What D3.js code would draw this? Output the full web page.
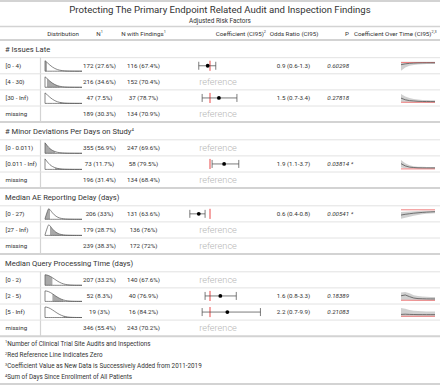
<!DOCTYPE html>
<html><head><meta charset="utf-8">
<script src="https://cdn.jsdelivr.net/npm/d3@7"></script>
<style>
html,body{margin:0;padding:0;background:#fff;}
svg text{font-family:Roboto,"Noto Sans",sans-serif;}
</style></head>
<body>
<svg id="chart" width="440" height="385"></svg>
<script>
// ---------------- data ----------------
const title = "Protecting The Primary Endpoint Related Audit and Inspection Findings";
const subtitle = "Adjusted Risk Factors";
const groupNames = ["# Issues Late", "# Minor Deviations Per Days on Study", "Median AE Reporting Delay (days)", "Median Query Processing Time (days)"];
const groupSup = ["", "4", "", ""];
const rowGroup = [0,0,0,0, 1,1,1, 2,2,2, 3,3,3,3];
const rowLabels = ["[0 - 4)","[4 - 30)","[30 - Inf)","missing","[0 - 0.011)","[0.011 - Inf)","missing","[0 - 27)","[27 - Inf)","missing","[0 - 2)","[2 - 5)","[5 - Inf)","missing"];
const nCount = [172,216,47,189, 355,73,196, 206,179,239, 207,52,19,346];
const nPct = [27.6,34.6,7.5,30.3, 56.9,11.7,31.4, 33,28.7,38.3, 33.2,8.3,3,55.4];
const fCount = [116,152,37,134, 247,58,134, 131,136,172, 140,40,16,243];
const fPct = [67.4,70.4,78.7,70.9, 69.6,79.5,68.4, 63.6,76,72, 67.6,76.9,84.2,70.2];
const orEst = [0.9,null,1.5,null, null,1.9,null, 0.6,null,null, null,1.6,2.2,null];
const orLo  = [0.6,null,0.7,null, null,1.1,null, 0.4,null,null, null,0.8,0.7,null];
const orHi  = [1.3,null,3.4,null, null,3.7,null, 0.8,null,null, null,3.3,9.9,null];
const pVal  = ["0.60298",null,"0.27818",null, null,"0.03814",null, "0.00541",null,null, null,"0.18389","0.21083",null];

// distribution (density samples, evenly spaced over [0, domMax])
const distDomMax = [75, 0.04, 200, 10];
const distIssues = [1.0,0.80,0.58,0.40,0.26,0.16,0.095,0.055,0.03,0.017,0.01,0.006,0.004,0.002,0.001,0.0];
const distMinor  = [1.0,0.70,0.45,0.28,0.17,0.10,0.06,0.035,0.02,0.012,0.007,0.004,0.002,0.001,0.0,0.0];
const distAE     = [0.05,0.6,1.0,0.85,0.62,0.43,0.29,0.19,0.12,0.08,0.05,0.03,0.02,0.012,0.008,0.005,0.003,0.002,0.001,0.0,0.0];
const distQuery  = [1.0,0.98,0.923,0.835,0.726,0.607,0.487,0.375,0.278,0.198,0.135,0.089,0.056,0.034,0.02,0.011,0.006,0.003,0.002,0.001,0.0];
const distByGroup = [distIssues, distMinor, distAE, distQuery];
const binLo = [0,4,30,null, 0,0.011,null, 0,27,null, 0,2,5,null];
const binHi = [4,30,75,null, 0.011,0.04,null, 27,200,null, 2,5,10,null];

// coefficient over time (log odds), 2011-2019
const years = [2011,2012,2013,2014,2015,2016,2017,2018,2019];
const trendEst = {
  0: [-0.8,-0.5,-0.3,-0.2,-0.15,-0.12,-0.11,-0.1,-0.105],
  2: [2.5,1.5,1.0,0.8,0.6,0.5,0.45,0.42,0.405],
  5: [3.5,2.0,1.2,0.9,0.75,0.7,0.67,0.65,0.642],
  7: [-1.4,-1.2,-1.05,-0.9,-0.8,-0.7,-0.62,-0.56,-0.51],
  11:[1.6,1.9,1.3,0.8,0.6,0.55,0.5,0.48,0.47],
  12:[0.9,1.0,0.9,0.85,0.8,0.8,0.79,0.79,0.79]
};
const trendLo = {
  0: [-3.0,-1.8,-1.2,-0.9,-0.7,-0.6,-0.55,-0.52,-0.51],
  2: [0.2,-0.1,-0.2,-0.25,-0.3,-0.33,-0.35,-0.36,-0.357],
  5: [1.0,0.5,0.3,0.2,0.15,0.12,0.1,0.1,0.095],
  7: [-2.4,-2.1,-1.85,-1.6,-1.4,-1.2,-1.08,-1.0,-0.916],
  11:[-0.1,0.1,0.0,-0.1,-0.15,-0.2,-0.2,-0.22,-0.223],
  12:[-0.3,-0.3,-0.35,-0.35,-0.36,-0.36,-0.357,-0.357,-0.357]
};
const trendHi = {
  0: [0.3,0.3,0.3,0.28,0.27,0.27,0.26,0.26,0.26],
  2: [5.0,3.5,2.5,2.0,1.6,1.4,1.3,1.25,1.224],
  5: [6.0,3.8,2.4,1.8,1.5,1.4,1.35,1.32,1.308],
  7: [-0.6,-0.5,-0.42,-0.36,-0.32,-0.28,-0.25,-0.23,-0.223],
  11:[2.8,3.0,2.5,1.8,1.5,1.35,1.25,1.2,1.194],
  12:[4.0,3.6,3.0,2.7,2.5,2.4,2.35,2.3,2.293]
};
const footnotes = [
  ["1","Number of Clinical Trial Site Audits and Inspections"],
  ["2","Red Reference Line Indicates Zero"],
  ["3","Coefficient Value as New Data is Successively Added from 2011-2019"],
  ["4","Sum of Days Since Enrollment of All Patients"]
];

// ---------------- layout ----------------
const svg = d3.select("#chart");
const W = 440;
const headerBottom = 40, groupH = 17.7, rowH = 16.1;
const txt = "#333";
const lineLight = "#e2e2e2", lineMid = "#d3d3d3";

// compute row positions
const rowTop = [], groupTop = [];
let y = headerBottom;
rowLabels.forEach((d,i)=>{
  if (i===0 || rowGroup[i]!==rowGroup[i-1]) { groupTop[rowGroup[i]] = y; y += groupH; }
  rowTop[i] = y; y += rowH;
});
const bodyBottom = y;

function hline(y0, color, w, x0=0, x1=W){
  svg.append("line").attr("x1",x0).attr("x2",x1).attr("y1",y0).attr("y2",y0)
    .attr("stroke",color).attr("stroke-width",w);
}

// top border, title
hline(1, lineMid, 2);
svg.append("text").attr("x",220).attr("y",12.5).attr("text-anchor","middle")
  .attr("font-size",9.6).attr("fill",txt).text(title);
svg.append("text").attr("x",220).attr("y",22.5).attr("text-anchor","middle")
  .attr("font-size",6.4).attr("fill",txt).text(subtitle);
hline(26.5, lineMid, 1.5);

// column headers
function header(x, anchor, label, sup){
  const t = svg.append("text").attr("x",x).attr("y",35.5).attr("text-anchor",anchor)
    .attr("font-size",6.2).attr("fill",txt);
  t.append("tspan").text(label);
  if (sup) t.append("tspan").attr("font-size",3.8).attr("dy",-2.4).text(sup);
}
header(63,"middle","Distribution");
header(99.5,"middle","N","1");
header(143.5,"middle","N with Findings","1");
header(266,"end","Coefficient (CI95)","2");
header(294,"middle","Odds Ratio (CI95)");
header(349,"end","P");
header(354,"start","Coefficient Over Time (CI95)","2,3");
hline(40, lineMid, 2);

// groups
groupNames.forEach((g,gi)=>{
  const gy = groupTop[gi];
  if (gi>0) hline(gy, lineMid, 2);
  const t = svg.append("text").attr("x",5).attr("y",gy+12.3).attr("font-size",7.6).attr("fill",txt);
  t.append("tspan").text(g);
  if (groupSup[gi]) t.append("tspan").attr("font-size",4.2).attr("dy",-3).text(groupSup[gi]);
  hline(gy+groupH, lineLight, 1);
  // stub border
  const rows = rowGroup.map((r,i)=>r===gi?i:-1).filter(i=>i>=0);
  svg.append("line").attr("x1",40.5).attr("x2",40.5)
    .attr("y1",rowTop[rows[0]]).attr("y2",rowTop[rows[rows.length-1]]+rowH)
    .attr("stroke",lineMid).attr("stroke-width",1.2);
});

// scales
const xCoef = d3.scaleLinear().domain([-1.5, 2.5]).range([177, 265]);
const xTime = d3.scaleLinear().domain([2011, 2019]).range([401, 435]);
const defs = svg.append("defs");

rowLabels.forEach((lab,i)=>{
  const top = rowTop[i], cy = top + rowH/2;
  if (i>0 && rowGroup[i]===rowGroup[i-1]) hline(top, lineLight, 1);
  svg.append("text").attr("x",5.5).attr("y",cy+2.2).attr("font-size",6.2).attr("fill",txt).text(lab);
  svg.append("text").attr("x",99.5).attr("y",cy+2.2).attr("text-anchor","middle")
    .attr("font-size",6.2).attr("fill",txt).text(`${nCount[i]} (${nPct[i]}%)`);
  svg.append("text").attr("x",143.5).attr("y",cy+2.2).attr("text-anchor","middle")
    .attr("font-size",6.2).attr("fill",txt).text(`${fCount[i]} (${fPct[i]}%)`);

  // distribution
  if (binLo[i]!==null){
    const dens = distByGroup[rowGroup[i]];
    const dmax = distDomMax[rowGroup[i]];
    const xd = d3.scaleLinear().domain([0,dmax]).range([45,82]);
    const yd = d3.scaleLinear().domain([0,1]).range([top+13.5, top+3]);
    const pts = dens.map((v,k)=>[k*dmax/(dens.length-1), v]);
    const area = d3.area().x(d=>xd(d[0])).y0(yd(0)).y1(d=>yd(d[1])).curve(d3.curveMonotoneX);
    const cid = "clip"+i;
    defs.append("clipPath").attr("id",cid).append("rect")
      .attr("x",xd(binLo[i])).attr("width",xd(binHi[i])-xd(binLo[i]))
      .attr("y",top).attr("height",rowH);
    svg.append("path").attr("d",area(pts)).attr("fill","#a9a9a9").attr("clip-path",`url(#${cid})`);
    svg.append("path").attr("d",area(pts)).attr("fill","none").attr("stroke","#555").attr("stroke-width",0.7);
  }

  // coefficient
  if (orEst[i]===null){
    svg.append("text").attr("x",218).attr("y",cy+3.2).attr("text-anchor","middle")
      .attr("font-size",9.2).attr("font-weight",300).attr("fill","#b5b5b5").text("reference");
  } else {
    const l = xCoef(Math.log(orLo[i])), h = xCoef(Math.log(orHi[i])), e = xCoef(Math.log(orEst[i]));
    svg.append("rect").attr("x",xCoef(0)-1).attr("width",2).attr("y",top+3).attr("height",rowH-6)
      .attr("fill","#f4a3a3");
    svg.append("line").attr("x1",l).attr("x2",h).attr("y1",cy).attr("y2",cy).attr("stroke","#444").attr("stroke-width",0.7);
    [l,h].forEach(xx=>svg.append("line").attr("x1",xx).attr("x2",xx).attr("y1",cy-4).attr("y2",cy+4)
      .attr("stroke","#444").attr("stroke-width",0.7));
    svg.append("circle").attr("cx",e).attr("cy",cy).attr("r",1.9).attr("fill","#000");
    svg.append("text").attr("x",293.5).attr("y",cy+2.2).attr("text-anchor","middle")
      .attr("font-size",6.2).attr("fill",txt)
      .text(`${orEst[i].toFixed(1)} (${orLo[i].toFixed(1)}-${orHi[i].toFixed(1)})`);
    const p = +pVal[i];
    svg.append("text").attr("x",327.3).attr("y",cy+2.2).attr("font-size",6.2)
      .attr("font-style","italic").attr("fill",txt).text(pVal[i] + (p<0.05?" *":""));

    // over time
    const est = trendEst[i], lo = trendLo[i], hi = trendHi[i];
    const yt = d3.scaleLinear().domain([Math.min(0,d3.min(lo)), Math.max(0,d3.max(hi))]).range([top+13, top+4]);
    const band = d3.area().x((d,k)=>xTime(years[k])).y0((d,k)=>yt(lo[k])).y1((d,k)=>yt(hi[k]));
    svg.append("path").attr("d",band(est)).attr("fill","#c8c8c8").attr("opacity",0.85);
    svg.append("line").attr("x1",xTime(2011)).attr("x2",xTime(2019)).attr("y1",yt(0)).attr("y2",yt(0))
      .attr("stroke","#f08080").attr("stroke-width",1);
    const ln = d3.line().x((d,k)=>xTime(years[k])).y(d=>yt(d));
    svg.append("path").attr("d",ln(est)).attr("fill","none").attr("stroke","#555").attr("stroke-width",0.8);
  }
});

hline(bodyBottom, lineMid, 2);

// footnotes
footnotes.forEach((f,k)=>{
  const t = svg.append("text").attr("x",5).attr("y",bodyBottom+9.5+k*11.2).attr("font-size",6.3).attr("fill",txt);
  t.append("tspan").attr("font-size",4).attr("dy",-2.3).text(f[0]);
  t.append("tspan").attr("dy",2.3).text(f[1]);
});
hline(384, lineMid, 2);
</script>
</body></html>
